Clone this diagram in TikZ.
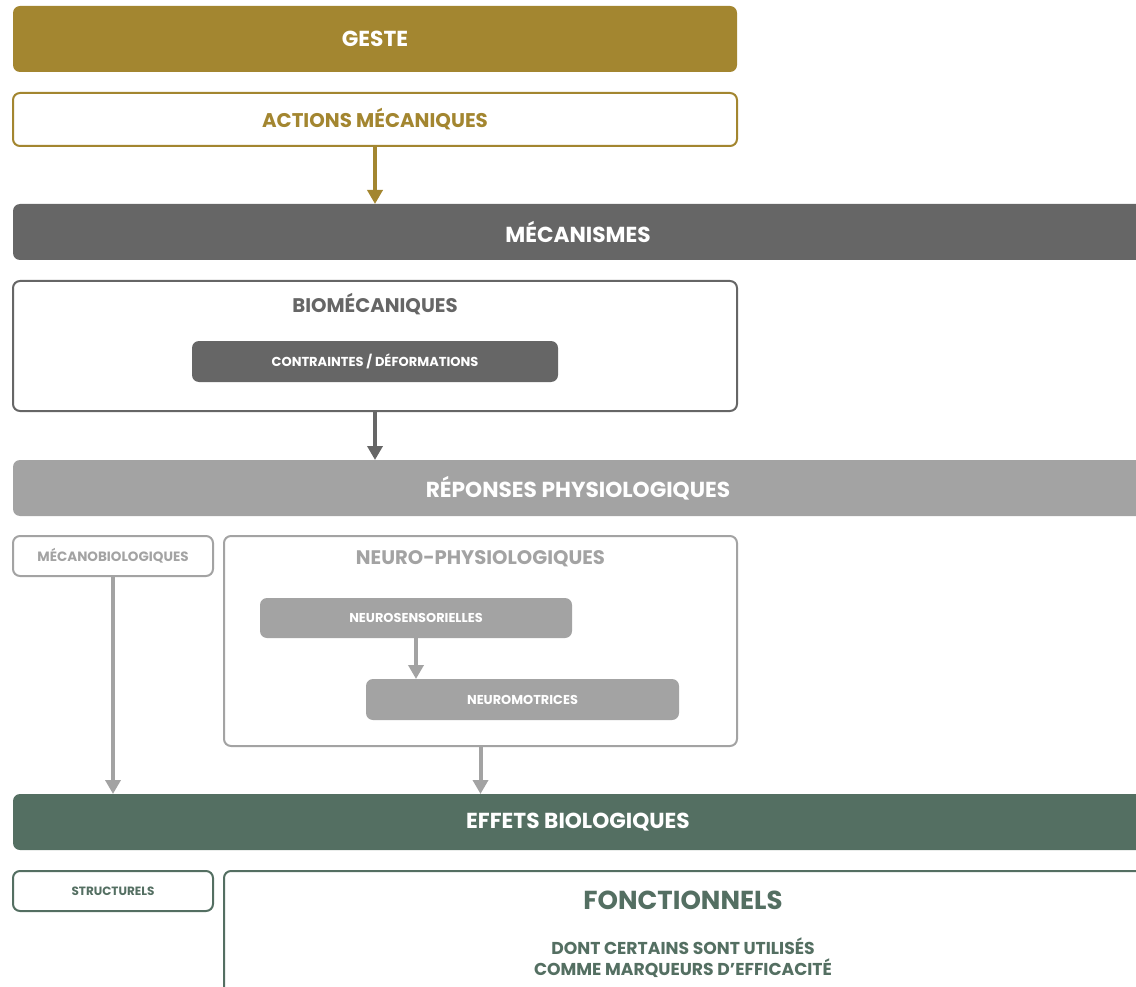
\documentclass[tikz,border=0pt]{standalone}
\usepackage{fontspec}
\setmainfont{Poppins}
\usetikzlibrary{arrows.meta}
\definecolor{cgold}{HTML}{A38630}
\definecolor{cdark}{HTML}{666666}
\definecolor{clight}{HTML}{A3A3A3}
\definecolor{cgreen}{HTML}{546F62}
\newcommand{\fsz}[1]{\bfseries\fontsize{#1}{#1}\selectfont}
\tikzset{
  box/.style={rounded corners=7pt, inner sep=0pt, outer sep=0pt, line width=2pt, align=center, font=\bfseries, fill=white},
  bar/.style={box, draw=none, text=white, font=\fsz{21.7}},
  fillbox/.style={box, draw=none, text=white, font=\fsz{12.9}},
  smallbox/.style={box, font=\fsz{12.5}},
  lbl/.style={inner sep=0pt, outer sep=0pt, align=center, font=\bfseries},
  arr/.style={line width=4pt, -{Triangle[width=15pt,length=14pt]}},
}
\begin{document}
\begin{tikzpicture}[x=1pt,y=-1pt]
\useasboundingbox (0,0) rectangle (1136,987);
\clip (0,0) rectangle (1136,987);
% GESTE
\node[bar, fill=cgold, minimum width=724pt, minimum height=66pt] (geste) at (375,39) {GESTE};
\node[box, draw=cgold, text=cgold, minimum width=724pt, minimum height=53pt, font=\fsz{19.8}] (actions) at (375,119.5) {ACTIONS MÉCANIQUES};
% MECANISMES
\node[bar, fill=cdark, minimum width=1130pt, minimum height=56pt] (meca) at (578,232) {MÉCANISMES};
\node[box, draw=cdark, minimum width=724pt, minimum height=130pt] (bio) at (375,346) {};
\node[lbl, text=cdark, font=\fsz{19.7}] (biot) at (375,304) {BIOMÉCANIQUES};
\node[fillbox, fill=cdark, minimum width=366pt, minimum height=41pt, font=\fsz{13}] (contr) at (375,361.5) {CONTRAINTES / DÉFORMATIONS};
% REPONSES
\node[bar, fill=clight, minimum width=1130pt, minimum height=56pt] (rep) at (578,488) {RÉPONSES PHYSIOLOGIQUES};
\node[smallbox, draw=clight, text=clight, minimum width=200pt, minimum height=40pt, font=\fsz{13.5}] (mecano) at (113,556) {MÉCANOBIOLOGIQUES};
\node[box, draw=clight, minimum width=513pt, minimum height=210pt] (neuro) at (480.5,641) {};
\node[lbl, text=clight, font=\fsz{19.6}] (neurot) at (480.5,559) {NEURO-PHYSIOLOGIQUES};
\node[fillbox, fill=clight, minimum width=312pt, minimum height=40pt] (nsens) at (416,618) {NEUROSENSORIELLES};
\node[fillbox, fill=clight, minimum width=313pt, minimum height=41pt] (nmot) at (522.5,699.5) {NEUROMOTRICES};
% EFFETS
\node[bar, fill=cgreen, minimum width=1130pt, minimum height=56pt] (eff) at (578,822) {EFFETS BIOLOGIQUES};
\node[smallbox, draw=cgreen, text=cgreen, minimum width=200pt, minimum height=40pt, font=\fsz{12}] (struct) at (113,891) {STRUCTURELS};
\node[box, draw=cgreen, minimum width=918pt, minimum height=140pt] (fonc) at (683,941) {};
\node[lbl, text=cgreen, font=\fsz{26}] (font) at (683,900) {FONCTIONNELS};
\node[lbl, text=cgreen, font=\bfseries\fontsize{17.2}{21}\selectfont] (fontsub) at (683,957.5) {DONT CERTAINS SONT UTILISÉS\\COMME MARQUEURS D’EFFICACITÉ};
% arrows
\draw[arr, cgold] (actions.south) -- (actions.south |- meca.north);
\draw[arr, cdark] (bio.south) -- (bio.south |- rep.north);
\draw[arr, clight] (mecano.south) -- (mecano.south |- eff.north);
\draw[arr, clight] (neuro.south) -- (neuro.south |- eff.north);
\draw[arr, clight] (nsens.south) -- (nsens.south |- nmot.north);
\end{tikzpicture}
\end{document}
